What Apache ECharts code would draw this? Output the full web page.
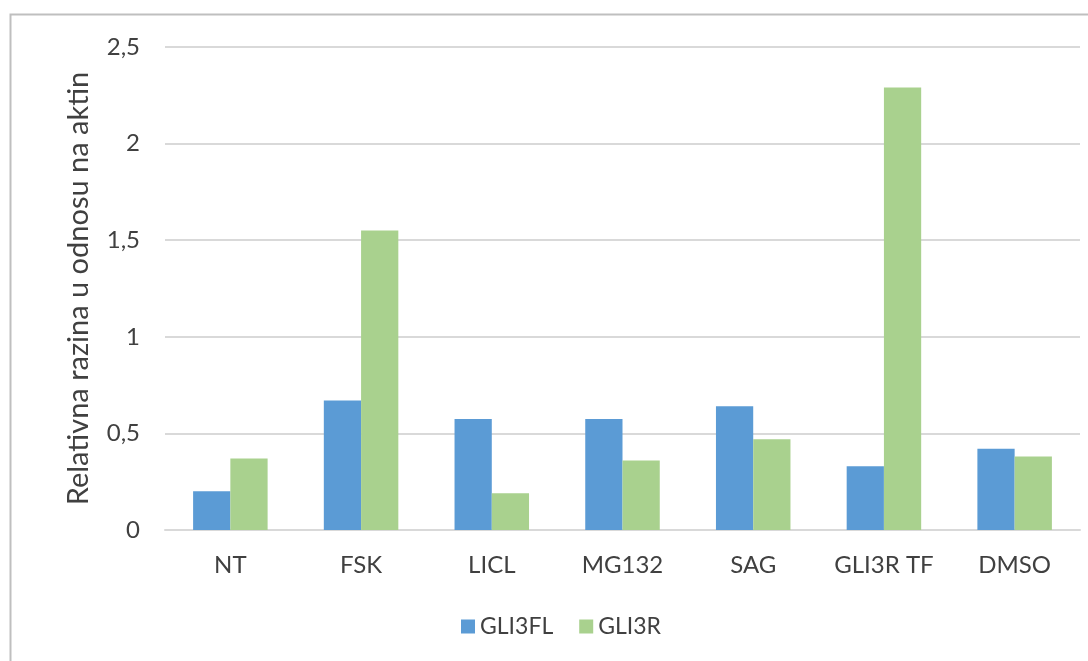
<!DOCTYPE html>
<html>
<head>
<meta charset="utf-8">
<script src="https://cdn.jsdelivr.net/npm/echarts@6/dist/echarts.min.js"></script>
<style>
  html, body { margin: 0; padding: 0; background: #fff; }
  #main { width: 1088px; height: 661px; }
</style>
</head>
<body>
<div id="main"></div>
<script>
let categories = ['NT', 'FSK', 'LICL', 'MG132', 'SAG', 'GLI3R TF', 'DMSO']
let gli3fl = [0.20, 0.67, 0.575, 0.575, 0.64, 0.33, 0.42]
let gli3r = [0.37, 1.55, 0.19, 0.36, 0.47, 2.29, 0.38]

let myChart = echarts.init(document.getElementById('main'))

let font = 'Lato, sans-serif'
let textColor = '#404040'

let option = {
    animation: false,
    textStyle: { fontFamily: font },
    graphic: [
        {
            type: 'rect',
            shape: { x: 10.5, y: 14.5, width: 1200, height: 800 },
            style: { fill: 'none', stroke: '#bfbfbf', lineWidth: 2 }
        }
    ],
    grid: { left: 165, right: 8, top: 47, bottom: 131 },
    legend: {
        top: 610,
        left: 456,
        itemWidth: 14,
        itemHeight: 14,
        itemGap: 26,
        icon: 'rect',
        textStyle: { fontSize: 23, color: textColor, fontFamily: font },
        data: ['GLI3FL', 'GLI3R']
    },
    xAxis: {
        type: 'category',
        data: categories,
        axisTick: { show: false },
        axisLine: { lineStyle: { color: '#d9d9d9', width: 2 } },
        axisLabel: { color: textColor, fontSize: 24, margin: 23, fontFamily: font }
    },
    yAxis: {
        type: 'value',
        min: 0,
        max: 2.5,
        interval: 0.5,
        name: 'Relativna razina u odnosu na aktin',
        nameLocation: 'middle',
        nameGap: 72,
        nameTextStyle: { fontSize: 29, color: textColor, fontFamily: font },
        axisLabel: {
            color: textColor,
            fontSize: 24,
            margin: 25,
            fontFamily: font,
            formatter: v => String(v).replace('.', ',')
        },
        splitLine: { lineStyle: { color: '#d9d9d9', width: 2 } }
    },
    series: [
        {
            name: 'GLI3FL',
            type: 'bar',
            data: gli3fl,
            barGap: '0%',
            barCategoryGap: '43%',
            itemStyle: { color: '#5b9bd5' }
        },
        {
            name: 'GLI3R',
            type: 'bar',
            data: gli3r,
            barGap: '0%',
            barCategoryGap: '43%',
            itemStyle: { color: '#a9d18e' }
        }
    ]
}

myChart.setOption(option)
</script>
</body>
</html>
